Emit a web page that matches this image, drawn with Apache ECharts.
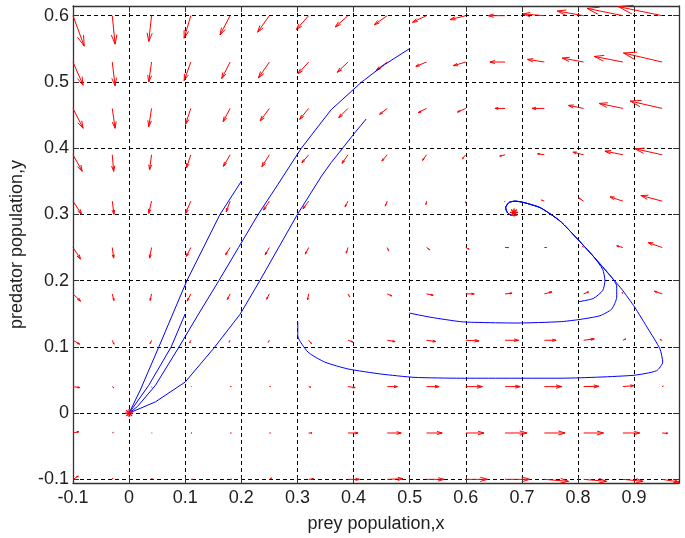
<!DOCTYPE html>
<html><head><meta charset="utf-8">
<script src="https://cdn.jsdelivr.net/npm/echarts@6/dist/echarts.min.js"></script>
<style>html,body{margin:0;padding:0;background:#fff}#c{width:685px;height:538px}</style>
</head><body><div id="c"></div>
<script>
// ---- axis ticks ----
const X_TICKS = [-0.1, 0, 0.1, 0.2, 0.3, 0.4, 0.5, 0.6, 0.7, 0.8, 0.9];
const Y_TICKS = [-0.1, 0, 0.1, 0.2, 0.3, 0.4, 0.5, 0.6];

// ---- quiver grid ----
const X_GRID = [-0.1, -0.03, 0.04, 0.11, 0.18, 0.25, 0.32, 0.39, 0.46, 0.53, 0.60, 0.67, 0.74, 0.81, 0.88, 0.95];
const Y_GRID = [0.60, 0.53, 0.46, 0.39, 0.32, 0.25, 0.18, 0.11, 0.04, -0.03, -0.10];

// horizontal components, one row per Y_GRID value
const U_ROWS = [
  [0.020, 0.005, -0.005, -0.012, -0.018, -0.021, -0.022, -0.0225, -0.023, -0.025, -0.028, -0.030, -0.038, -0.047, -0.064, -0.078],
  [0.018, 0.005, -0.005, -0.012, -0.015, -0.0195, -0.019, -0.019, -0.0195, -0.019, -0.022, -0.027, -0.030, -0.038, -0.051, -0.069],
  [0.018, 0.005, -0.005, -0.0095, -0.0125, -0.0165, -0.016, -0.0165, -0.0135, -0.015, -0.015, -0.018, -0.022, -0.027, -0.042, -0.057],
  [0.0165, 0.0025, -0.0035, -0.008, -0.012, -0.0135, -0.012, -0.0105, -0.0095, -0.007, -0.006, -0.0095, -0.012, -0.019, -0.032, -0.048],
  [0.0155, 0.003, -0.005, -0.0095, -0.007, -0.0105, -0.010, -0.005, -0.0035, -0.001, 0.000, -0.001, -0.005, -0.009, -0.023, -0.038],
  [0.0135, 0.0025, -0.0035, -0.008, -0.008, -0.0075, -0.006, -0.003, 0.0025, 0.006, 0.006, 0.006, 0.004, -0.002, -0.011, -0.025],
  [0.0135, 0.003, -0.0025, -0.0065, -0.005, -0.005, -0.002, 0.003, 0.008, 0.012, 0.015, 0.0125, 0.0135, 0.009, -0.001, -0.014],
  [0.012, 0.003, -0.0025, -0.002, -0.002, -0.002, 0.005, 0.009, 0.014, 0.0165, 0.0235, 0.024, 0.021, 0.019, 0.005, -0.004],
  [0.012, 0.003, 0.0005, 0.001, 0.002, 0.002, 0.004, 0.013, 0.018, 0.0225, 0.0295, 0.027, 0.031, 0.027, 0.0195, 0.002],
  [0.0105, 0.002, 0.001, 0.002, 0.002, 0.002, 0.006, 0.018, 0.025, 0.028, 0.0325, 0.039, 0.037, 0.0355, 0.030, 0.010],
  [0.0095, 0.001, 0.001, 0.003, 0.003, 0.004, 0.009, 0.0205, 0.028, 0.031, 0.0385, 0.044, 0.043, 0.041, 0.036, 0.030]
];
// vertical components, one row per Y_GRID value
const V_ROWS = [
  [-0.046, -0.043, -0.039, -0.034, -0.029, -0.025, -0.021, -0.017, -0.0137, -0.010, -0.006, 0.000, 0.0025, 0.007, 0.011, 0.0136],
  [-0.035, -0.036, -0.030, -0.028, -0.025, -0.024, -0.0176, -0.0155, -0.0125, -0.0065, -0.0055, 0.000, 0.004, 0.006, 0.0085, 0.0136],
  [-0.030, -0.030, -0.0275, -0.024, -0.020, -0.019, -0.0165, -0.014, -0.009, -0.0065, -0.0055, 0.000, 0.000, 0.0045, 0.0075, 0.011],
  [-0.025, -0.025, -0.0225, -0.020, -0.0175, -0.018, -0.012, -0.013, -0.0095, -0.0085, -0.006, -0.002, 0.0015, 0.004, 0.0055, 0.009],
  [-0.020, -0.020, -0.0185, -0.0185, -0.016, -0.0135, -0.0115, -0.0085, -0.0075, -0.005, -0.003, -0.001, 0.0015, 0.005, 0.0065, 0.0085],
  [-0.0175, -0.016, -0.016, -0.0135, -0.011, -0.011, -0.010, -0.0085, -0.005, -0.0035, -0.0025, 0.000, 0.000, 0.002, 0.0025, 0.0075],
  [-0.011, -0.010, -0.010, -0.011, -0.0085, -0.008, -0.009, -0.0045, -0.003, -0.002, 0.000, 0.001, 0.003, 0.003, 0.002, 0.004],
  [-0.006, -0.006, -0.005, -0.004, -0.003, -0.003, -0.005, -0.0025, -0.002, -0.002, -0.001, 0.000, 0.000, 0.002, 0.002, 0.001],
  [-0.0015, -0.002, -0.001, 0.000, 0.000, 0.000, -0.001, -0.0015, 0.000, 0.000, 0.000, 0.000, 0.000, 0.0005, 0.0015, 0.001],
  [0.002, 0.001, 0.000, 0.000, 0.000, 0.000, 0.000, 0.000, 0.000, 0.000, 0.000, 0.000, 0.000, 0.000, 0.000, -0.0005],
  [0.005, 0.002, 0.002, 0.000, 0.000, 0.002, 0.001, 0.000, 0.001, 0.000, 0.000, 0.000, -0.003, -0.003, -0.003, -0.004]
];

// ---- trajectories ----
const TRAJ_A = [[0.2,0.35],[0.162,0.30],[0.103,0.20],[0.053,0.10],[0.02,0.035],[0,0]];
const TRAJ_B = [[0.1,0.15],[0.075,0.10],[0.035,0.042],[0,0]];
const TRAJ_C = [[0.4995,0.55],[0.455,0.526],[0.414,0.4995],[0.36,0.458],[0.307,0.40],[0.265,0.345],[0.23,0.30],[0.195,0.25],[0.16,0.20],[0.124,0.15],[0.089,0.10],[0.047,0.042],[0.015,0.01],[0,0]];
const TRAJ_D = [[0.4225,0.444],[0.402,0.423],[0.36,0.378],[0.343,0.358],[0.30,0.30],[0.233,0.20],[0.198,0.1495],[0.151,0.098],[0.10,0.047],[0.047,0.017],[0,0]];
const TRAJ_E = [[0.3006,0.138],[0.3006,0.117],[0.319,0.092],[0.349,0.077],[0.39,0.0667],[0.449,0.059],[0.508,0.054],[0.591,0.0527],[0.768,0.0527],[0.898,0.057],[0.94,0.064],[0.951,0.077],[0.946,0.097],[0.925,0.127],[0.901,0.16],[0.878,0.187],[0.863,0.202],[0.827,0.237],[0.80,0.262],[0.768,0.29],[0.733,0.31],[0.703,0.318],[0.688,0.32],[0.677,0.318],[0.671,0.31],[0.674,0.303],[0.68,0.299],[0.691,0.2985],[0.686,0.303]];
const TRAJ_F = [[0.4995,0.151],[0.538,0.1446],[0.591,0.138],[0.615,0.137],[0.691,0.136],[0.768,0.138],[0.80,0.141],[0.839,0.147],[0.86,0.157],[0.869,0.175],[0.869,0.192],[0.86,0.205],[0.827,0.237],[0.80,0.262],[0.768,0.29],[0.733,0.31],[0.703,0.318],[0.688,0.32],[0.677,0.318],[0.671,0.31],[0.674,0.303],[0.68,0.299],[0.686,0.303]];
const TRAJ_G = [[0.80,0.168],[0.827,0.173],[0.844,0.185],[0.848,0.20],[0.844,0.217],[0.827,0.237],[0.80,0.262],[0.768,0.29],[0.733,0.31],[0.703,0.318],[0.688,0.32],[0.677,0.318],[0.671,0.31],[0.674,0.303],[0.68,0.299],[0.686,0.303]];

// ---- equilibrium points ----
const EQUILIBRIA = [[0,0],[0.686,0.303]];

const X_MIN = -0.1, X_MAX = 0.98, Y_MIN = -0.1055, Y_MAX = 0.6146;

const quiverData = [];
Y_GRID.forEach((y, r) => X_GRID.forEach((x, c) => quiverData.push([x, y, U_ROWS[r][c], V_ROWS[r][c]])));

const FONT = '"Liberation Sans", Arial, sans-serif';
const fmt = v => String(Math.round(v * 10) / 10);

function quiverItem(params, api) {
  const x = api.value(0), y = api.value(1), u = api.value(2), v = api.value(3);
  const p0 = api.coord([x, y]), p1 = api.coord([x + u, y + v]);
  const dx = p1[0] - p0[0], dy = p1[1] - p0[1];
  const style = { stroke: '#ff0000', lineWidth: 1, fill: null };
  const a = 0.33, b = 0.3;
  const h1 = [p1[0] - a * (dx + b * dy), p1[1] - a * (dy - b * dx)];
  const h2 = [p1[0] - a * (dx - b * dy), p1[1] - a * (dy + b * dx)];
  return { type: 'group', children: [
    { type: 'polyline', shape: { points: [p0, p1] }, style },
    { type: 'polyline', shape: { points: [h1, p1, h2] }, style }
  ]};
}

function starItem(params, api) {
  const c = api.coord([api.value(0), api.value(1)]);
  const r = 4, d = r * 0.72;
  const style = { stroke: '#ff0000', lineWidth: 1.4 };
  return { type: 'group', children: [
    { type: 'line', shape: { x1: c[0] - r, y1: c[1], x2: c[0] + r, y2: c[1] }, style },
    { type: 'line', shape: { x1: c[0], y1: c[1] - r, x2: c[0], y2: c[1] + r }, style },
    { type: 'line', shape: { x1: c[0] - d, y1: c[1] - d, x2: c[0] + d, y2: c[1] + d }, style },
    { type: 'line', shape: { x1: c[0] - d, y1: c[1] + d, x2: c[0] + d, y2: c[1] - d }, style }
  ]};
}

const trajSeries = [
  [TRAJ_A, false], [TRAJ_B, false], [TRAJ_C, false], [TRAJ_D, false],
  [TRAJ_E, 0.2], [TRAJ_F, 0.2], [TRAJ_G, 0.2]
].map(([d, s]) => ({
  type: 'line', data: d, showSymbol: false, symbol: 'none', smooth: s, z: 3,
  lineStyle: { color: '#0000ff', width: 1 }, silent: true
}));

const axisLineStyle = { lineStyle: { color: '#333', width: 1.3 } };
const chart = echarts.init(document.getElementById('c'), null, { renderer: 'canvas' });
chart.setOption({
  animation: false,
  backgroundColor: '#fff',
  grid: { left: 70, right: 6, top: 6, bottom: 54, containLabel: false },
  xAxis: [{
    type: 'value', min: X_MIN, max: X_MAX, position: 'bottom',
    axisLine: { show: true, onZero: false, ...axisLineStyle },
    axisTick: { show: true, inside: true, length: 6, customValues: X_TICKS, lineStyle: { color: '#333' } },
    axisLabel: { customValues: X_TICKS, formatter: fmt, color: '#222', fontSize: 18, fontFamily: FONT, margin: 6 },
    splitLine: { show: true, lineStyle: { color: '#000', type: [4, 3], width: 1 } },
    name: 'prey population,x', nameLocation: 'middle', nameGap: 32,
    nameTextStyle: { color: '#222', fontSize: 18, fontFamily: FONT }
  }, {
    type: 'value', min: X_MIN, max: X_MAX, position: 'top',
    axisLine: { show: true, onZero: false, ...axisLineStyle },
    axisTick: { show: true, inside: true, length: 6, customValues: X_TICKS, lineStyle: { color: '#333' } },
    axisLabel: { show: false }, splitLine: { show: false }
  }],
  yAxis: [{
    type: 'value', min: Y_MIN, max: Y_MAX, position: 'left',
    axisLine: { show: true, onZero: false, ...axisLineStyle },
    axisTick: { show: true, inside: true, length: 6, customValues: Y_TICKS, lineStyle: { color: '#333' } },
    axisLabel: { customValues: Y_TICKS, formatter: fmt, color: '#222', fontSize: 18, fontFamily: FONT, margin: 4 },
    splitLine: { show: true, lineStyle: { color: '#000', type: [4, 3], width: 1 } },
    name: 'predator population,y', nameLocation: 'middle', nameGap: 47, nameRotate: 90,
    nameTextStyle: { color: '#222', fontSize: 18, fontFamily: FONT }
  }, {
    type: 'value', min: Y_MIN, max: Y_MAX, position: 'right',
    axisLine: { show: true, onZero: false, ...axisLineStyle },
    axisTick: { show: true, inside: true, length: 6, customValues: Y_TICKS, lineStyle: { color: '#333' } },
    axisLabel: { show: false }, splitLine: { show: false }
  }],
  series: [
    { type: 'custom', renderItem: quiverItem, data: quiverData, encode: { x: 0, y: 1 }, z: 2, silent: true },
    ...trajSeries,
    { type: 'custom', renderItem: starItem, data: EQUILIBRIA, encode: { x: 0, y: 1 }, z: 4, silent: true }
  ]
});
</script></body></html>
